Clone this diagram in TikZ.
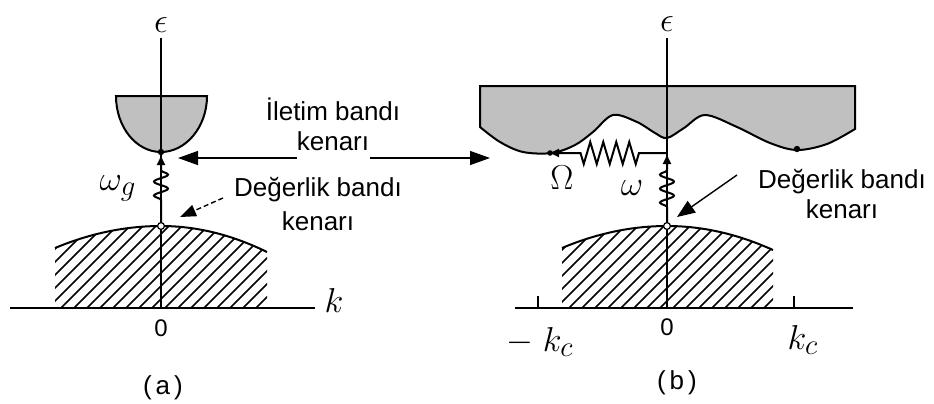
\documentclass[tikz,border=0pt]{standalone}
\usepackage{fontspec}
\setmainfont{Liberation Sans}
\usetikzlibrary{arrows.meta, decorations.pathmorphing}
\definecolor{bandgray}{RGB}{192,192,192}

\begin{document}
\begin{tikzpicture}[
x=0.5pt, y=-0.5pt,
lbl/.style={font=\fontsize{13}{15}\selectfont, align=center, inner sep=0pt},
sym/.style={font=\fontsize{19}{22}\selectfont, inner sep=0pt},
band/.style={draw, line width=1pt, fill=bandgray},
hatch/.style={line width=0.75pt},
kaxis/.style={line width=1.4pt},
eaxis/.style={line width=0.6pt},
edge/.style={line width=1pt},
pointer/.style={line width=0.7pt, -{Triangle[length=10pt,width=7pt]}},
spring/.style={line width=1pt, -{Triangle[length=4.5pt,width=4pt]}, decorate},
>=Stealth
]

\useasboundingbox (0,0) rectangle (934,403);

\coordinate (cbmina) at (161,152);
\coordinate (vbtopa) at (161,226);
\coordinate (springtopa) at (161,156);
\coordinate (etopa) at (161,38);
\coordinate (origina) at (161,308);
\coordinate (kleft) at (10,308);
\coordinate (kright) at (315,308);

\coordinate (cbleftb) at (550,153);
\coordinate (cbrightb) at (797,149);
\coordinate (cornerb) at (667,153);
\coordinate (springtopb) at (667,155);
\coordinate (vbtopb) at (667,226);
\coordinate (etopb) at (667,38);
\coordinate (originb) at (667,308);
\coordinate (kleftb) at (515,308);
\coordinate (krightb) at (853,308);
\coordinate (tickl) at (538,308);
\coordinate (tickr) at (794,308);

\filldraw[band] (116,96) .. controls (116,126.9) and (136.1,152) .. (161,152)
  .. controls (185.9,152) and (207,126.9) .. (207,96) -- cycle;

\filldraw[band] (480,86) -- (855,86) -- plot[smooth, tension=0.55] coordinates {
  (855,129) (827,144) (797,150) (770,143) (737,127) (705,115) (684,128)
  (667,138) (655,133) (637,122) (613,115) (593,132) (575,145) (552,153)
  (523,152) (500,142) (480,127)} -- cycle;

\begin{scope}
\clip (55,248) .. controls (90.3,233.3) and (125.7,226) .. (161,226)
  .. controls (196.3,226) and (231.7,234.7) .. (267,252) -- (267,308) -- (55,308) -- cycle;
\foreach \x in {-30,-17,...,270}
  \draw[hatch] (\x,308) -- ++(90,-90);
\end{scope}
\draw[edge] (55,248) .. controls (90.3,233.3) and (125.7,226) .. (161,226)
  .. controls (196.3,226) and (231.7,234.7) .. (267,252);

\begin{scope}
\clip (562,248) .. controls (597,233.3) and (632,226) .. (667,226)
  .. controls (702.3,226) and (737.7,234) .. (773,250) -- (773,308) -- (562,308) -- cycle;
\foreach \x in {478,491,...,780}
  \draw[hatch] (\x,308) -- ++(90,-90);
\end{scope}
\draw[edge] (562,248) .. controls (597,233.3) and (632,226) .. (667,226)
  .. controls (702.3,226) and (737.7,234) .. (773,250);

\draw[eaxis] (etopa) -- (origina);
\draw[kaxis] (kleft) -- (kright);
\draw[eaxis] (etopb) -- (originb);
\draw[kaxis] (kleftb) -- (krightb);
\draw[edge] (tickl) -- ++(0,-12);
\draw[edge] (tickr) -- ++(0,-12);

\draw[spring, decoration={snake, segment length=7pt, amplitude=3.5pt,
  pre length=13pt, post length=5pt}] (vbtopa) -- (springtopa);
\draw[spring, decoration={snake, segment length=7pt, amplitude=3.5pt,
  pre length=9.5pt, post length=7pt}] (vbtopb) -- (springtopb);
\draw[spring, decoration={zigzag, segment length=6.5pt, amplitude=5.5pt,
  pre length=14pt, post length=15pt}] (cornerb) -- (cbleftb);

\fill (cbmina) circle[radius=1.6pt];
\fill (cbleftb) circle[radius=1.4pt];
\fill (cbrightb) circle[radius=1.6pt];
\draw[fill=white, line width=0.6pt] (vbtopa) circle[radius=1.7pt];
\draw[fill=white, line width=0.6pt] (vbtopb) circle[radius=1.7pt];

\node[sym] (epsa) at (161,25) {$\epsilon$};
\node[sym] (epsb) at (667,24) {$\epsilon$};
\node[sym] (kaxis) at (334,300) {$k$};
\node[sym] (omegag) at (118,188) {$\omega_g$};
\node[sym] (omega) at (632,188) {$\omega$};
\node[sym] (bigomega) at (562,178) {$\Omega$};
\node[sym] (mkc) at (540,342) {$-\;k_c$};
\node[sym] (kc) at (803,340) {$k_c$};
\node[lbl, font=\fontsize{12}{14}\selectfont] (zeroa) at (161,328) {0};
\node[lbl, font=\fontsize{12}{14}\selectfont] (zerob) at (667,327) {0};
\node[lbl] (capa) at (163,388) {(\hspace{0.15em}a\hspace{0.15em})};
\node[lbl] (capb) at (677,383) {(\hspace{0.15em}b\hspace{0.15em})};

\node[lbl] (iletim) at (333,124) {İletim bandı\\kenarı};
\node[lbl] (degera) at (318,204) {Değerlik bandı\\[2pt]kenarı};
\node[lbl] (degerb) at (842,194) {Değerlik bandı\\kenarı};

\coordinate (iletiml) at (297,158);
\coordinate (iletimr) at (370,158);
\coordinate (tipa) at (178,158);
\coordinate (tipb) at (490,158);
\coordinate (dashstart) at (223,198);
\coordinate (dashtip) at (180,217);
\coordinate (degstart) at (737,175);
\coordinate (degtip) at (677,217);

\draw[pointer] (iletiml) -- (tipa);
\draw[pointer] (iletimr) -- (tipb);
\draw[pointer, -{Triangle[length=8pt,width=6pt]}, dash pattern=on 2.5pt off 1.5pt] (dashstart) -- (dashtip);
\draw[pointer, -{Triangle[length=9pt,width=7pt]}] (degstart) -- (degtip);

\end{tikzpicture}
\end{document}
